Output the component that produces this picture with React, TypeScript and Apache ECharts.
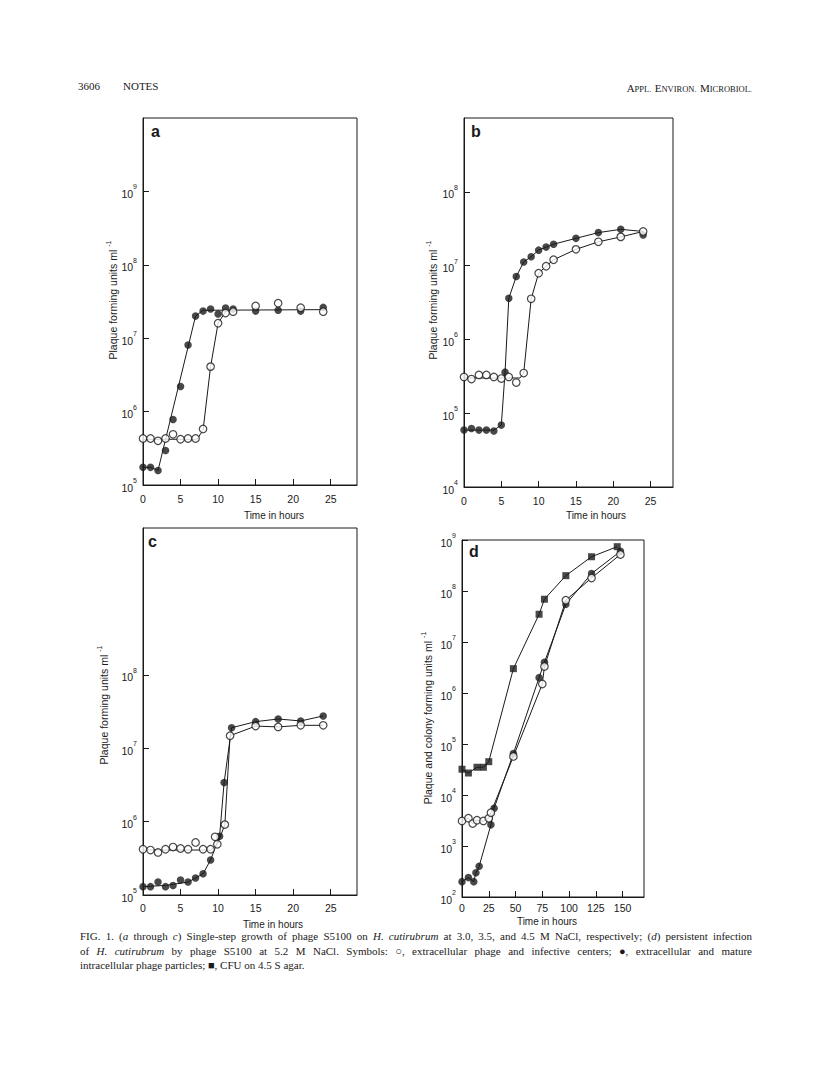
import React, { useEffect, useRef } from "react";
import * as echarts from "echarts";

// ---------------- data ----------------
// (a) 3.0 M NaCl
const aHours = [0, 1, 2, 3, 4, 5, 6, 7, 8, 9, 10, 11, 12, 15, 18, 21, 24];
const aFilled = [1.74e5, 1.74e5, 1.58e5, 2.95e5, 7.8e5, 2.2e6, 8.1e6, 2.0e7, 2.34e7, 2.5e7, 2.14e7, 2.57e7, 2.5e7, 2.34e7, 2.4e7, 2.34e7, 2.63e7];
const aOpen = [4.3e5, 4.3e5, 4.0e5, 4.3e5, 4.9e5, 4.2e5, 4.3e5, 4.3e5, 5.8e5, 4.1e6, 1.6e7, 2.2e7, 2.3e7, 2.75e7, 3.0e7, 2.6e7, 2.3e7];
const aFilledCurveHours = [0, 1, 2, 7, 8, 24];
const aFilledCurve = [1.74e5, 1.74e5, 1.58e5, 2.0e7, 2.4e7, 2.45e7];
const aOpenCurveHours = [0, 7.2, 8, 9, 10, 11, 12];
const aOpenCurve = [4.2e5, 4.2e5, 5.6e5, 4.1e6, 1.6e7, 2.3e7, 2.45e7];

// (b) 3.5 M NaCl
const bFilledHours = [0, 1, 2, 3, 4, 5, 5.5, 6, 7, 8, 9, 10, 11, 12, 15, 18, 21, 24];
const bFilled = [5.9e4, 6.2e4, 5.9e4, 5.9e4, 5.75e4, 6.9e4, 3.6e5, 3.6e6, 7.1e6, 1.12e7, 1.32e7, 1.62e7, 1.78e7, 1.95e7, 2.34e7, 2.8e7, 3.1e7, 2.6e7];
const bOpenHours = [0, 1, 2, 3, 4, 5, 6, 7, 8, 9, 10, 11, 12, 15, 18, 21, 24];
const bOpen = [3.1e5, 2.9e5, 3.3e5, 3.3e5, 3.1e5, 2.95e5, 3.1e5, 2.6e5, 3.5e5, 3.55e6, 7.9e6, 9.8e6, 1.2e7, 1.66e7, 2.1e7, 2.45e7, 2.9e7];
const bFilledCurveHours = [0, 4, 5, 5.5, 6, 7, 8, 9, 10, 11, 12, 15, 18, 21, 24];
const bFilledCurve = [5.9e4, 5.9e4, 6.9e4, 3.6e5, 3.6e6, 7.1e6, 1.12e7, 1.32e7, 1.62e7, 1.78e7, 1.95e7, 2.34e7, 2.8e7, 3.1e7, 2.9e7];
const bOpenCurveHours = [0, 7.5, 8, 9, 10, 11, 12, 15, 18, 21, 24];
const bOpenCurve = [3.0e5, 3.0e5, 3.5e5, 3.55e6, 7.9e6, 9.8e6, 1.2e7, 1.66e7, 2.1e7, 2.45e7, 2.9e7];

// (c) 4.5 M NaCl
const cFilledHours = [0, 1, 2, 3, 4, 5, 6, 7, 8, 9, 10.2, 10.8, 11.8, 15, 18, 21, 24];
const cFilled = [1.3e5, 1.3e5, 1.5e5, 1.3e5, 1.35e5, 1.6e5, 1.5e5, 1.7e5, 1.95e5, 3.0e5, 6.3e5, 3.4e6, 1.9e7, 2.3e7, 2.5e7, 2.35e7, 2.75e7];
const cOpenHours = [0, 1, 2, 3, 4, 5, 6, 7, 8, 9, 9.6, 9.9, 10.9, 11.6, 15, 18, 21, 24];
const cOpen = [4.2e5, 4.1e5, 3.8e5, 4.2e5, 4.5e5, 4.3e5, 4.2e5, 5.2e5, 4.2e5, 4.2e5, 6.2e5, 4.9e5, 9.1e5, 1.48e7, 2.0e7, 1.95e7, 2.05e7, 2.05e7];
const cFilledCurveHours = [0, 3, 6, 7, 8, 9, 10.2, 10.8, 11.8, 15, 18, 21, 24];
const cFilledCurve = [1.3e5, 1.35e5, 1.5e5, 1.7e5, 1.95e5, 3.0e5, 6.3e5, 3.4e6, 1.9e7, 2.3e7, 2.5e7, 2.35e7, 2.75e7];
const cOpenCurveHours = [0, 9, 9.9, 10.9, 11.6, 15, 18, 21, 24];
const cOpenCurve = [4.1e5, 4.1e5, 4.9e5, 9.1e5, 1.48e7, 2.0e7, 1.95e7, 2.05e7, 2.05e7];

// (d) 5.2 M NaCl, persistent infection
const dSquareHours = [0, 6, 14, 20, 25, 48, 72, 77, 97, 121, 145];
const dSquare = [3.2e4, 2.7e4, 3.5e4, 3.5e4, 4.5e4, 3.0e6, 3.5e7, 6.9e7, 2.0e8, 4.7e8, 7.4e8];
const dFilledHours = [0, 6, 11, 13, 16, 27, 30, 48, 72, 77, 97, 121, 148];
const dFilled = [2.0e2, 2.4e2, 2.0e2, 3.0e2, 4.0e2, 2.6e3, 5.5e3, 6.5e4, 2.0e6, 4.0e6, 5.5e7, 2.2e8, 6.0e8];
const dOpenHours = [0, 6, 10, 14, 20, 25, 27, 48, 75, 77, 97, 121, 148];
const dOpen = [3.1e3, 3.5e3, 2.75e3, 3.2e3, 3.1e3, 3.5e3, 4.5e3, 5.7e4, 1.5e6, 3.3e6, 6.6e7, 1.8e8, 5.2e8];

// axis ticks
const hourTicks = [0, 5, 10, 15, 20, 25];
const dHourTicks = [0, 25, 50, 75, 100, 125, 150];
const aDecades = [5, 6, 7, 8, 9];
const bDecades = [4, 5, 6, 7, 8];
const cDecades = [5, 6, 7, 8];
const dDecades = [2, 3, 4, 5, 6, 7, 8, 9];

const yTitle = "Plaque forming units ml";
const dYTitle = "Plaque and colony forming units ml";
const xTitle = "Time in hours";

const captionLines = [
  "FIG. 1. (_a_ through _c_) Single-step growth of phage S5100 on _H._ _cutirubrum_ at 3.0, 3.5, and 4.5 M NaCl, respectively; (_d_) persistent infection",
  "of _H._ _cutirubrum_ by phage S5100 at 5.2 M NaCl. Symbols: \u25CB, extracellular phage and infective centers; \u25CF, extracellular and mature",
  "intracellular phage particles; \u25A0, CFU on 4.5 S agar.",
];

// ---------------- helpers ----------------
const INK = "#1a1a1a";
const SANS = "'Liberation Sans', Arial, sans-serif";
const SERIF = "'Liberation Serif', 'Times New Roman', serif";

const toPts = (xs: number[], ys: number[]) => xs.map((x, i) => [x, Math.log10(ys[i])]);

type Panel = {
  left: number; top: number; width: number; height: number;
  xMax: number; xTicks: number[]; yMin: number; yMax: number; yTicks: number[]; xLabelMargin: number;
};

const panels: Panel[] = [
  { left: 143, top: 118, width: 214, height: 367, xMax: 28.5, xTicks: hourTicks, yMin: 5, yMax: 10, yTicks: aDecades, xLabelMargin: 8 },
  { left: 464, top: 118, width: 209, height: 369, xMax: 28, xTicks: hourTicks, yMin: 4, yMax: 9, yTicks: bDecades, xLabelMargin: 8 },
  { left: 143, top: 528, width: 214, height: 367, xMax: 28.5, xTicks: hourTicks, yMin: 5, yMax: 10, yTicks: cDecades, xLabelMargin: 7 },
  { left: 462, top: 540, width: 182, height: 357, xMax: 170, xTicks: dHourTicks, yMin: 2, yMax: 9, yTicks: dDecades, xLabelMargin: 5 },
];

function lineSeries(idx: number, xs: number[], ys: number[]) {
  return {
    type: "line", xAxisIndex: idx, yAxisIndex: idx, data: toPts(xs, ys),
    symbol: "none", showSymbol: false, lineStyle: { color: INK, width: 1 }, z: 2, silent: true,
  };
}
function dotSeries(idx: number, xs: number[], ys: number[], kind: "filled" | "open" | "square") {
  return {
    type: "scatter", xAxisIndex: idx, yAxisIndex: idx, data: toPts(xs, ys),
    symbol: kind === "square" ? "rect" : "circle",
    symbolSize: kind === "square" ? 7 : 7.5,
    itemStyle: kind === "open"
      ? { color: "#fff", borderColor: INK, borderWidth: 1.2 }
      : { color: INK },
    z: kind === "open" ? 4 : 3, silent: true,
  };
}

function measure(text: string, font: string) {
  const c = document.createElement("canvas").getContext("2d")!;
  c.font = font;
  return c.measureText(text).width;
}

function captionGraphics() {
  const size = 11;
  const fN = `${size}px ${SERIF}`;
  const fI = `italic ${size}px ${SERIF}`;
  const x0 = 80, x1 = 752, y0 = 936, lh = 14.5;
  const out: any[] = [];
  captionLines.forEach((line, li) => {
    const words = line.split(" ");
    const parsed = words.map((w) => {
      const segs: { t: string; i: boolean }[] = [];
      const parts = w.split("_");
      parts.forEach((p, k) => { if (p) segs.push({ t: p, i: k % 2 === 1 }); });
      const width = segs.reduce((s, g) => s + measure(g.t, g.i ? fI : fN), 0);
      const rich = segs.map((g) => `{${g.i ? "i" : "n"}|${g.t}}`).join("");
      return { rich, width };
    });
    const total = parsed.reduce((s, p) => s + p.width, 0);
    const space = measure(" ", fN);
    const last = li === captionLines.length - 1;
    const gap = last ? space : (x1 - x0 - total) / (parsed.length - 1);
    let x = x0;
    parsed.forEach((p) => {
      out.push({
        type: "text", x, y: y0 + li * lh, silent: true,
        style: {
          text: p.rich, fill: INK, verticalAlign: "middle", align: "left",
          rich: {
            n: { fontFamily: SERIF, fontSize: size, fill: INK },
            i: { fontFamily: SERIF, fontSize: size, fontStyle: "italic", fill: INK },
          },
        },
      });
      x += p.width + gap;
    });
  });
  return out;
}

function yTitleGraphic(x: number, y: number, text: string) {
  return {
    type: "text", x, y, rotation: Math.PI / 2, silent: true,
    style: {
      text: `{n|${text}}{s|-1}`, align: "center", verticalAlign: "middle", fill: INK,
      rich: {
        n: { fontFamily: SANS, fontSize: 10.5, fill: INK, lineHeight: 16 },
        s: { fontFamily: SANS, fontSize: 7, fill: INK, verticalAlign: "top", lineHeight: 16, padding: [0, 0, 0, 3] },
      },
    },
  };
}

function plainText(x: number, y: number, text: string, opts: any = {}) {
  return {
    type: "text", x, y, silent: true,
    style: { text, fill: INK, fontFamily: SANS, fontSize: 10.5, align: "center", verticalAlign: "middle", ...opts },
  };
}

function buildOption() {
  const grid = panels.map((p) => ({
    left: p.left, top: p.top, width: p.width, height: p.height,
    show: true, borderColor: INK, borderWidth: 1, backgroundColor: "transparent", containLabel: false,
  }));
  const xAxis = panels.map((p, i) => ({
    type: "value", gridIndex: i, min: 0, max: p.xMax,
    axisLine: { show: true, onZero: false, lineStyle: { color: INK, width: 1 } },
    axisTick: { show: true, inside: true, length: 6, customValues: p.xTicks, lineStyle: { color: INK } },
    axisLabel: { customValues: p.xTicks, color: INK, fontFamily: SANS, fontSize: 10.5, margin: p.xLabelMargin },
    splitLine: { show: false },
  }));
  const yAxis = panels.map((p, i) => ({
    type: "value", gridIndex: i, min: p.yMin, max: p.yMax,
    axisLine: { show: true, onZero: false, lineStyle: { color: INK, width: 1 } },
    axisTick: { show: true, inside: true, length: 6, customValues: p.yTicks, lineStyle: { color: INK } },
    axisLabel: {
      customValues: p.yTicks, margin: 6,
      formatter: (v: number) => `{b|10}{s|${v}}`,
      rich: {
        b: { fontFamily: SANS, fontSize: 10.5, color: INK, lineHeight: 16, verticalAlign: "bottom" },
        s: { fontFamily: SANS, fontSize: 7, color: INK, lineHeight: 16, verticalAlign: "top" },
      },
    },
    splitLine: { show: false },
  }));

  const series: any[] = [
    lineSeries(0, aFilledCurveHours, aFilledCurve),
    lineSeries(0, aOpenCurveHours, aOpenCurve),
    dotSeries(0, aHours, aFilled, "filled"),
    dotSeries(0, aHours, aOpen, "open"),

    lineSeries(1, bFilledCurveHours, bFilledCurve),
    lineSeries(1, bOpenCurveHours, bOpenCurve),
    dotSeries(1, bFilledHours, bFilled, "filled"),
    dotSeries(1, bOpenHours, bOpen, "open"),

    lineSeries(2, cFilledCurveHours, cFilledCurve),
    lineSeries(2, cOpenCurveHours, cOpenCurve),
    dotSeries(2, cFilledHours, cFilled, "filled"),
    dotSeries(2, cOpenHours, cOpen, "open"),

    lineSeries(3, dSquareHours, dSquare),
    lineSeries(3, dFilledHours, dFilled),
    lineSeries(3, dOpenHours, dOpen),
    dotSeries(3, dSquareHours, dSquare, "square"),
    dotSeries(3, dFilledHours, dFilled, "filled"),
    dotSeries(3, dOpenHours, dOpen, "open"),
  ];

  const letterStyle = { fontSize: 16, fontWeight: "bold", align: "left" };
  const graphic: any[] = [
    // header
    { type: "text", x: 78, y: 86, silent: true, style: { text: "3606", fill: INK, fontFamily: SERIF, fontSize: 11, verticalAlign: "middle" } },
    { type: "text", x: 123, y: 86, silent: true, style: { text: "NOTES", fill: INK, fontFamily: SERIF, fontSize: 11, verticalAlign: "middle" } },
    {
      type: "text", x: 752, y: 86, silent: true,
      style: {
        text: "{L|A}{s|PPL.} {L|E}{s|NVIRON.} {L|M}{s|ICROBIOL.}", align: "right", verticalAlign: "middle", fill: INK,
        rich: {
          L: { fontFamily: SERIF, fontSize: 11, fill: INK, lineHeight: 14, verticalAlign: "bottom" },
          s: { fontFamily: SERIF, fontSize: 8.5, fill: INK, lineHeight: 14, verticalAlign: "bottom" },
        },
      },
    },
    // panel letters
    plainText(151, 131, "a", letterStyle),
    plainText(471, 131, "b", letterStyle),
    plainText(148, 541, "c", letterStyle),
    plainText(469, 551, "d", letterStyle),
    // axis titles
    yTitleGraphic(113, 300, yTitle),
    yTitleGraphic(433, 300, yTitle),
    yTitleGraphic(104, 705, yTitle),
    yTitleGraphic(428, 718, dYTitle),
    plainText(274, 515, xTitle, { fontSize: 10 }),
    plainText(596, 515, xTitle, { fontSize: 10 }),
    plainText(273, 924, xTitle, { fontSize: 10 }),
    plainText(547, 921, xTitle, { fontSize: 10 }),
    ...captionGraphics(),
  ];

  return { animation: false, backgroundColor: "#fff", grid, xAxis, yAxis, series, graphic };
}

export default function App() {
  const ref = useRef<HTMLDivElement>(null);
  useEffect(() => {
    if (!ref.current) return;
    const chart = echarts.init(ref.current, undefined, { renderer: "svg" });
    chart.setOption(buildOption() as any);
    return () => chart.dispose();
  }, []);
  return (
    <div
      ref={ref}
      style={{ position: "absolute", left: 0, top: 0, width: 816, height: 1072, background: "#fff" }}
    />
  );
}
